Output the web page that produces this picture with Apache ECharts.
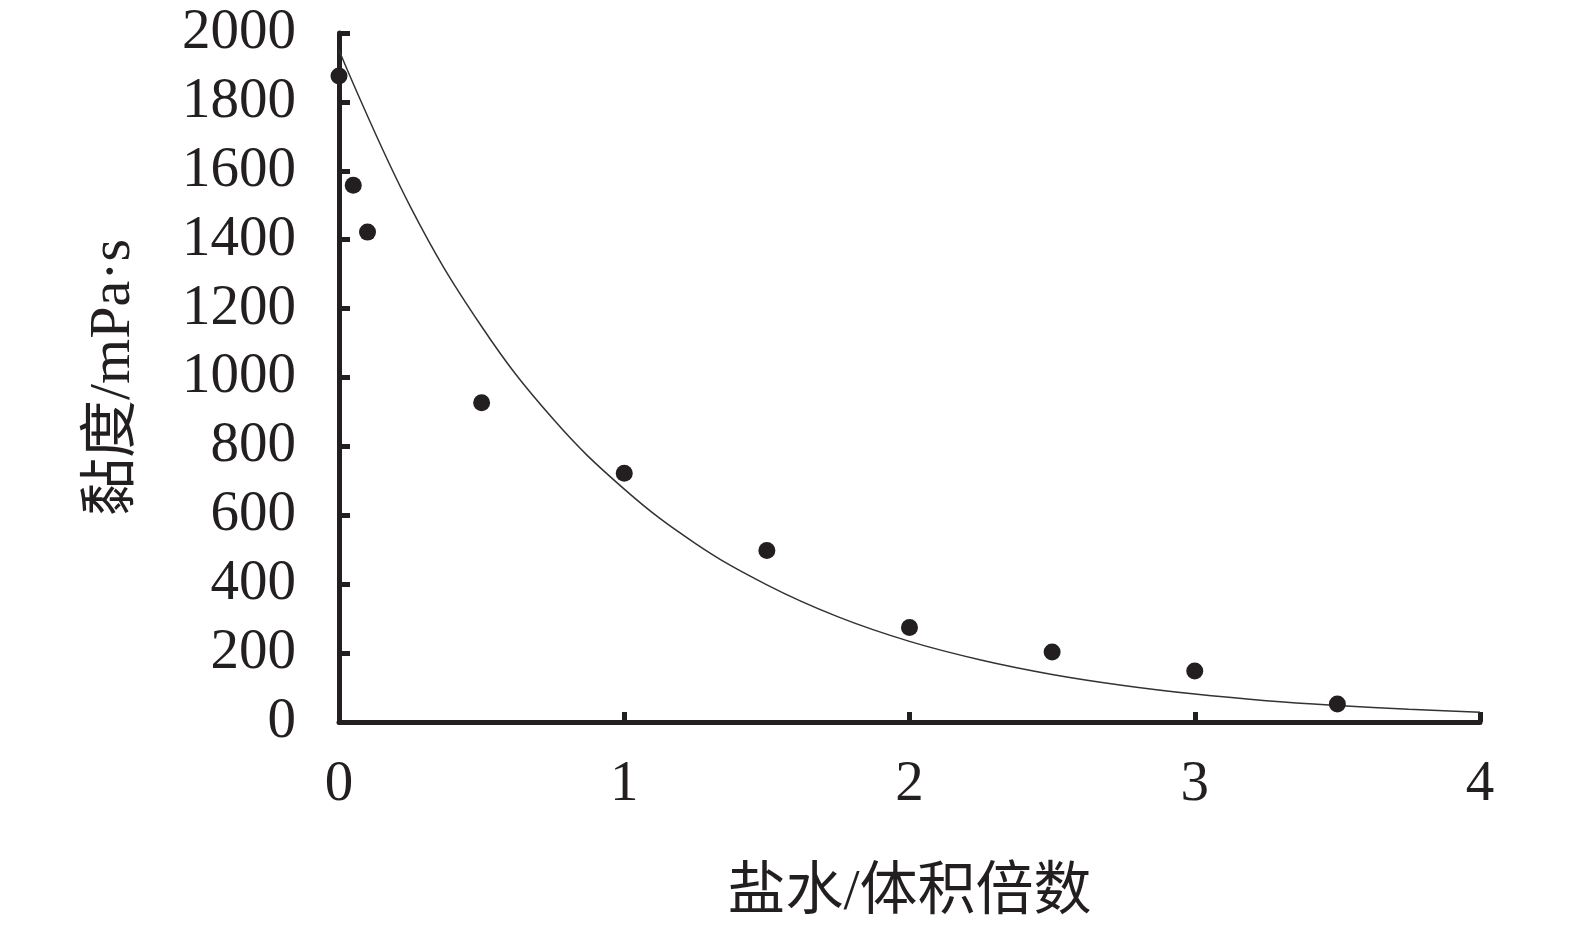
<!DOCTYPE html>
<html>
<head>
<meta charset="utf-8">
<script src="https://cdn.jsdelivr.net/npm/echarts@6/dist/echarts.min.js"></script>
<style>
html,body{margin:0;padding:0;background:#fff;}
#c{width:1575px;height:931px;}
</style>
</head>
<body>
<div id="c"></div>
<script>
// Measured points: brine volume multiple vs viscosity (mPa·s)
const pointX = [0, 0.05, 0.1, 0.5, 1, 1.5, 2, 2.5, 3, 3.5];
const pointY = [1875, 1558, 1422, 927, 722, 498, 274, 203, 148, 52];

// Fitted trend curve
const curveX = [0, 0.25, 0.5, 0.75, 1, 1.25, 1.5, 1.75, 2, 2.25, 2.5, 2.75, 3, 3.25, 3.5, 3.75, 4];
const curveY = [1950, 1496, 1148, 880, 676, 518, 398, 305, 234, 180, 138, 106, 81, 62, 48, 37, 28];

const xName = '盐水/体积倍数';
const yName = '黏度/mPa·s';

const ink = '#231f20';
const fontFam = '"Liberation Serif", "Times New Roman", "Noto Sans CJK SC", serif';

const chart = echarts.init(document.getElementById('c'), null, {renderer: 'canvas'});
chart.setOption({
  animation: false,
  backgroundColor: '#fff',
  grid: {left: 339, right: 95, top: 33, bottom: 209, containLabel: false},
  xAxis: {
    type: 'value', min: 0, max: 4, interval: 1,
    name: xName, nameLocation: 'middle', nameGap: 143,
    nameTextStyle: {fontSize: 58, color: ink, fontFamily: fontFam},
    axisLine: {show: true, onZero: false, lineStyle: {color: ink, width: 5}},
    axisTick: {show: true, inside: true, length: 10, lineStyle: {color: ink, width: 5}},
    axisLabel: {fontSize: 57, color: ink, fontFamily: fontFam, margin: 35, formatter: v => String(v)},
    splitLine: {show: false}
  },
  yAxis: {
    type: 'value', min: 0, max: 2000, interval: 200,
    name: yName, nameLocation: 'middle', nameGap: 196, nameRotate: 90,
    nameTextStyle: {fontSize: 58, color: ink, fontFamily: fontFam},
    axisLine: {show: true, onZero: false, lineStyle: {color: ink, width: 5}},
    axisTick: {show: true, inside: true, length: 11, lineStyle: {color: ink, width: 5}},
    axisLabel: {fontSize: 57, color: ink, fontFamily: fontFam, margin: 43, formatter: v => String(v)},
    splitLine: {show: false}
  },
  series: [
    {
      type: 'line',
      data: curveX.map((x, i) => [x, curveY[i]]),
      smooth: 0.4,
      showSymbol: false,
      symbol: 'none',
      lineStyle: {color: '#333', width: 1.5},
      z: 2
    },
    {
      type: 'scatter',
      data: pointX.map((x, i) => [x, pointY[i]]),
      symbol: 'circle',
      symbolSize: 17,
      itemStyle: {color: ink, opacity: 1},
      z: 3
    }
  ]
});
</script>
</body>
</html>
